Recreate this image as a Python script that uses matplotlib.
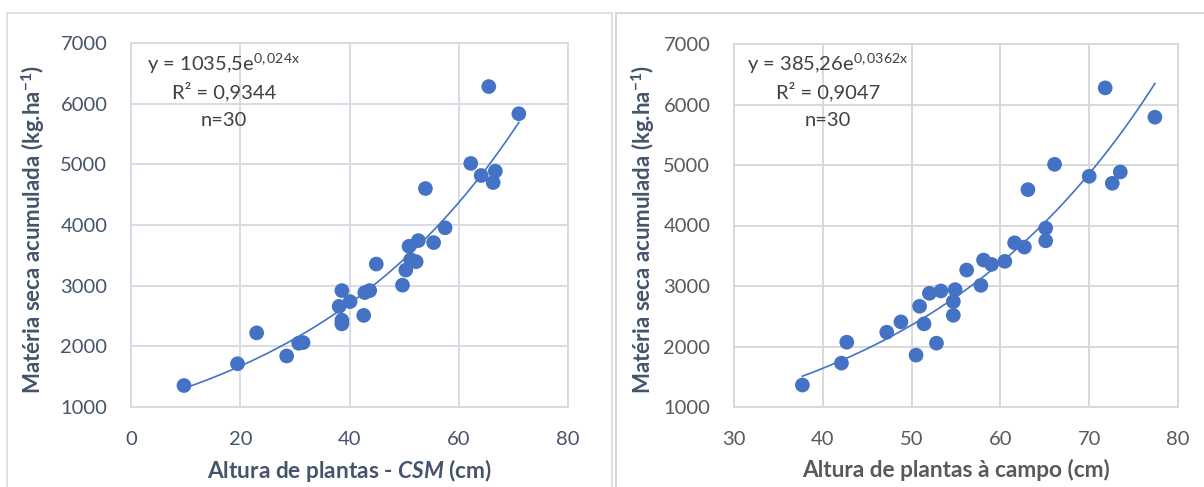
import matplotlib
matplotlib.use("Agg")
import matplotlib.pyplot as plt
import numpy as np
from matplotlib.patches import Rectangle

FONT = "Lato"
plt.rcParams["font.family"] = [FONT, "DejaVu Sans"]
plt.rcParams["mathtext.fontset"] = "custom"
plt.rcParams["mathtext.rm"] = FONT
plt.rcParams["mathtext.it"] = FONT + ":italic"
plt.rcParams["mathtext.bf"] = FONT + ":bold"
plt.rcParams["mathtext.bfit"] = FONT + ":italic:bold"

# ---- data ----
csm_height = [9.7, 19.5, 23.0, 28.5, 30.7, 31.5, 38.6, 38.1, 38.6, 38.6,
              40.1, 42.8, 43.7, 42.6, 44.9, 49.7, 50.3, 50.9, 51.2, 52.2,
              52.6, 55.4, 57.5, 53.9, 62.2, 64.1, 66.7, 66.3, 65.5, 71.0]
csm_biomass = [1354, 1713, 2222, 1841, 2051, 2062, 2919, 2659, 2430, 2370,
               2737, 2886, 2919, 2510, 3356, 3008, 3257, 3649, 3428, 3395,
               3743, 3710, 3954, 4601, 5015, 4816, 4888, 4700, 6282, 5834]

field_height = [37.7, 42.1, 42.7, 47.2, 48.8, 50.5, 50.9, 51.4, 52.0, 53.3,
                52.8, 54.9, 54.7, 54.7, 56.2, 57.8, 58.1, 59.0, 60.5, 61.6,
                62.7, 65.1, 65.1, 63.1, 66.1, 70.0, 72.6, 73.5, 71.8, 77.4]
field_biomass = [1363, 1725, 2071, 2236, 2407, 1857, 2665, 2374, 2879, 2918,
                 2055, 2940, 2742, 2516, 3264, 3011, 3429, 3357, 3407, 3714,
                 3643, 3956, 3747, 4593, 5011, 4813, 4698, 4885, 6275, 5790]

# trendline coefficients (y = a * exp(b x))
csm_fit = (1035.5, 0.024)
field_fit = (385.26, 0.0362)

csm_xticks = [0, 20, 40, 60, 80]
field_xticks = [30, 40, 50, 60, 70, 80]
yticks = [1000, 2000, 3000, 4000, 5000, 6000, 7000]

W, H = 1204, 487
fig = plt.figure(figsize=(W / 100, H / 100), dpi=100)

def fx(px):
    return px / W

def fy(py):
    return 1 - py / H

# panel borders
fig.patches.append(Rectangle((fx(7), fy(500)), fx(612) - fx(7), fy(13) - fy(500),
                             transform=fig.transFigure, fill=False,
                             edgecolor="#D6DCE5", linewidth=1.2))
fig.patches.append(Rectangle((fx(616), fy(500)), fx(1215) - fx(616), fy(13) - fy(500),
                             transform=fig.transFigure, fill=False,
                             edgecolor="#D9D9D9", linewidth=1.5))

BLUE = "#4472C4"
SLATE = "#44546A"
GRAY = "#595959"

def make_axes(rect_px, x, y, fit, xticks, xlim, grid_color, tick_color, xlabel, xlabel_color,
              eq, r2, eq_center_px, ylabel_x_px):
    l, t, r, b = rect_px
    ax = fig.add_axes([fx(l), fy(b), fx(r) - fx(l), fy(t) - fy(b)])
    ax.set_xlim(*xlim)
    ax.set_ylim(1000, 7000)
    ax.set_xticks(xticks)
    ax.set_yticks(yticks)
    ax.grid(True, color=grid_color, linewidth=1.4)
    ax.set_axisbelow(True)
    for s in ax.spines.values():
        s.set_color(grid_color)
        s.set_linewidth(1.4)
    ax.tick_params(length=0, labelsize=14.5, colors=tick_color, pad=17)
    for lab in ax.get_xticklabels() + ax.get_yticklabels():
        lab.set_color(tick_color)
    xs = np.linspace(min(x), max(x), 200)
    a, bb = fit
    ax.plot(xs, a * np.exp(bb * xs), color=BLUE, linewidth=1.2, zorder=2)
    ax.scatter(x, y, s=112, color=BLUE, edgecolors="none", zorder=3)
    # labels
    fig.text(fx((l + r) / 2), fy(470), xlabel, ha="center", va="center",
             fontsize=16.3, fontweight="bold", color=xlabel_color)
    fig.text(fx(ylabel_x_px), fy((t + b) / 2 + 4),
             r"Matéria seca acumulada (kg.ha$^{\mathbf{-1}}$)",
             rotation=90, ha="center", va="center", fontsize=16,
             fontweight="bold", color=SLATE)
    cx = eq_center_px
    fig.text(fx(cx), fy(64), eq, ha="center", va="center", fontsize=14.5, color="#404040")
    fig.text(fx(cx), fy(92), r2, ha="center", va="center", fontsize=14.5, color="#404040")
    fig.text(fx(cx), fy(121), "n=30", ha="center", va="center", fontsize=14.5, color="#404040")
    return ax

make_axes((131, 43, 568, 407), csm_height, csm_biomass, csm_fit, csm_xticks, (0, 80),
          "#D6DCE5", SLATE, r"Altura de plantas - $\mathbfit{CSM}$ (cm)", SLATE,
          r"y = 1035,5e$^{\mathregular{0,024x}}$", "R² = 0,9344", 224, 33)

make_axes((734, 44, 1178, 407), field_height, field_biomass, field_fit, field_xticks, (30, 80),
          "#D9D9D9", GRAY, "Altura de plantas à campo (cm)", GRAY,
          r"y = 385,26e$^{\mathregular{0,0362x}}$", "R² = 0,9047", 828, 643)

fig.savefig("out.png", dpi=100)
